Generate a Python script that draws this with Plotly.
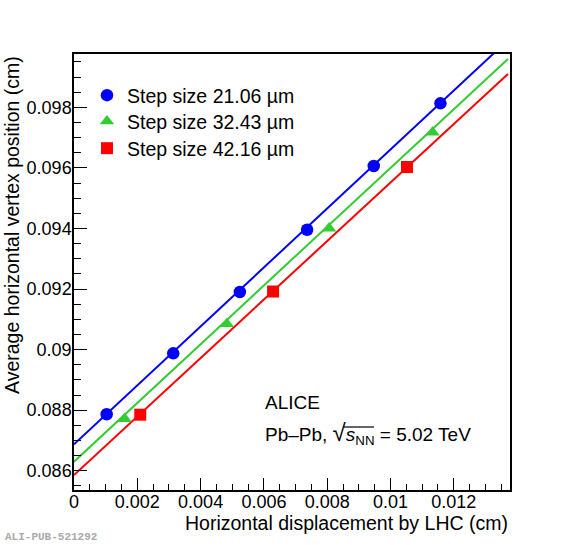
import plotly.graph_objects as go

# ---- data ----
blue_x = [0.001032, 0.003135, 0.005240, 0.007365, 0.009470, 0.011577]
blue_y = [0.087863, 0.089877, 0.091901, 0.093958, 0.096062, 0.098132]
green_x = [0.00160, 0.00483, 0.00806, 0.01133]
green_y = [0.087714, 0.090848, 0.094005, 0.097174]
red_x = [0.002093, 0.006290, 0.010520]
red_y = [0.087850, 0.091917, 0.096029]

fit_x = [0.0, 0.01371]
blue_fit = [0.086872, 0.100219]
green_fit = [0.086298, 0.099595]
red_fit = [0.085858, 0.099099]

labels = ["Step size 21.06 \u00b5m", "Step size 32.43 \u00b5m", "Step size 42.16 \u00b5m"]

BLUE = "#0000ff"
GREEN = "#33cc33"
RED = "#ff0000"
FONT = "Liberation Sans"

fig = go.Figure()

for fx, fy, c in [(fit_x, blue_fit, BLUE), (fit_x, green_fit, GREEN), (fit_x, red_fit, RED)]:
    fig.add_trace(go.Scatter(x=fx, y=fy, mode="lines", line=dict(color=c, width=2),
                             showlegend=False, hoverinfo="skip"))

fig.add_trace(go.Scatter(x=blue_x, y=blue_y, mode="markers", name=labels[0], legend="legend",
                         marker=dict(symbol="circle", size=12.5, color=BLUE)))
fig.add_trace(go.Scatter(x=green_x, y=green_y, mode="markers", name=labels[1], legend="legend2",
                         marker=dict(symbol="triangle-up", size=12.5, color=GREEN)))
fig.add_trace(go.Scatter(x=red_x, y=red_y, mode="markers", name=labels[2], legend="legend3",
                         marker=dict(symbol="square", size=12, color=RED)))

axis_common = dict(
    showgrid=False, zeroline=False, showline=True, linecolor="black", linewidth=1.5,
    mirror=True, ticks="inside", tickcolor="black", tickwidth=1,
    tickfont=dict(family=FONT, size=18, color="black"),
)

fig.update_xaxes(range=[0, 0.013775], tick0=0, dtick=0.002, ticklen=12,
                 minor=dict(dtick=0.0005, ticks="inside", ticklen=6, tickcolor="black"),
                 ticklabelstandoff=-5,
                 **axis_common)
fig.update_yaxes(range=[0.085363, 0.09976], tick0=0.086, dtick=0.002, ticklen=13,
                 minor=dict(dtick=0.0005, ticks="inside", ticklen=7, tickcolor="black"),
                 ticklabelstandoff=-3,
                 **axis_common)

W, H = 567, 545
L, R, T, B = 74, 57, 54, 55
pw, ph = W - L - R, H - T - B

def px(xp):
    return (xp - L) / pw

def py(yp):
    return (H - B - yp) / ph

annotations = [
    dict(text="Horizontal displacement by LHC (cm)", x=1.0, y=py(523), xref="paper", yref="paper",
         xanchor="right", yanchor="middle", showarrow=False,
         font=dict(family=FONT, size=19.5, color="black")),
    dict(text="Average horizontal vertex position (cm)", x=px(12), y=1.0, xref="paper", yref="paper",
         xanchor="center", yanchor="top", textangle=-90, showarrow=False,
         font=dict(family=FONT, size=19.5, color="black")),
    dict(text="ALICE", x=px(263), y=py(402.5), xref="paper", yref="paper",
         xanchor="left", yanchor="middle", showarrow=False,
         font=dict(family=FONT, size=19, color="black")),
    dict(text="Pb\u2013Pb, <span style='font-size:24px'>\u221a</span><i>s</i><sub>NN</sub> = 5.02 TeV",
         x=px(263), y=py(433), xref="paper", yref="paper",
         xanchor="left", yanchor="middle", showarrow=False,
         font=dict(family=FONT, size=19, color="black")),
    dict(text="<b>ALI-PUB-521292</b>", x=px(3), y=py(537), xref="paper", yref="paper",
         xanchor="left", yanchor="middle", showarrow=False,
         font=dict(family="Liberation Mono", size=11, color="#aaaaaa")),
]

shapes = [
    dict(type="line", xref="paper", yref="paper", x0=px(344), x1=px(374), y0=py(427), y1=py(427),
         line=dict(color="black", width=1.2)),
]

leg_common = dict(xanchor="left", yanchor="top", bgcolor="rgba(0,0,0,0)",
                  font=dict(family=FONT, size=19.5, color="black"), itemclick=False)

fig.update_layout(
    width=W, height=H,
    margin=dict(l=L, r=R, t=T, b=B),
    paper_bgcolor="white", plot_bgcolor="white",
    showlegend=True,
    legend=dict(x=px(87), y=py(76), **leg_common),
    legend2=dict(x=px(87), y=py(102), **leg_common),
    legend3=dict(x=px(87), y=py(129), **leg_common),
    annotations=annotations,
    shapes=shapes,
)

fig.write_html("out.html", config={"displayModeBar": False},
               post_script="document.body.style.margin='0';document.body.style.overflow='hidden';")
